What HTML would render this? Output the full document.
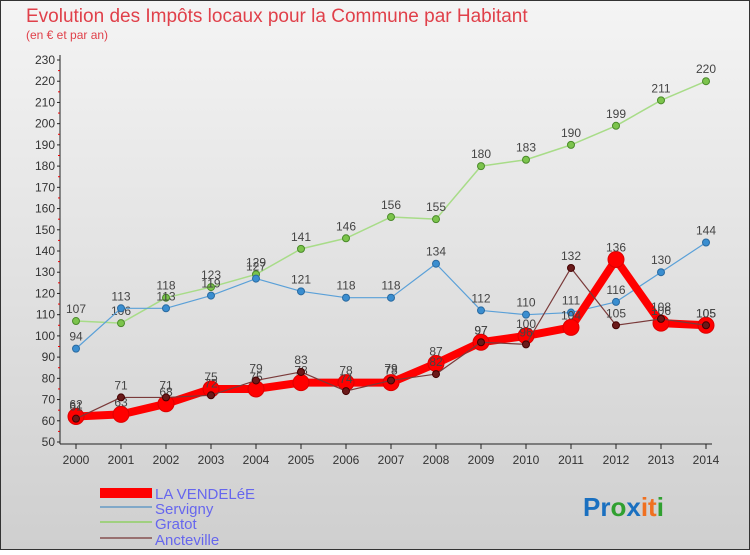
<!DOCTYPE html>
<html><head><meta charset="utf-8"><style>
body{margin:0;width:750px;height:550px;overflow:hidden;font-family:"Liberation Sans",sans-serif}
svg text{font-family:"Liberation Sans",sans-serif}
</style></head><body>
<svg id="c" width="750" height="550" xmlns="http://www.w3.org/2000/svg">
<defs><linearGradient id="bg" x1="0" y1="0" x2="0" y2="1"><stop offset="0" stop-color="#f4f4f4"/><stop offset="1" stop-color="#cfcfcf"/></linearGradient></defs>
<rect x="0.5" y="0.5" width="749" height="549" fill="url(#bg)" stroke="#333"/>
<text x="26" y="22" font-size="19" fill="#e0404a">Evolution des Impôts locaux pour la Commune par Habitant</text>
<text x="26" y="39" font-size="12" fill="#e0404a">(en € et par an)</text>
<g id="axes"></g><g id="series"></g>
<g>
<rect x="100" y="488" width="52" height="10" fill="#f00"/>
<text x="155" y="499" font-size="15" fill="#6666ee">LA VENDELéE</text>
<rect x="100" y="506" width="52" height="2" fill="#80a8c8"/>
<text x="155" y="514" font-size="15" fill="#6666ee">Servigny</text>
<rect x="100" y="521" width="52" height="2" fill="#a0d080"/>
<text x="155" y="529" font-size="15" fill="#6666ee">Gratot</text>
<rect x="100" y="537" width="52" height="2" fill="#987070"/>
<text x="155" y="545" font-size="15" fill="#6666ee">Ancteville</text>
</g>
<text x="583" y="516" font-size="26" font-weight="bold"><tspan fill="#1a70c0">Pr</tspan><tspan fill="#30a030">o</tspan><tspan fill="#1a70c0">x</tspan><tspan fill="#f07020">it</tspan><tspan fill="#30a030">i</tspan></text>
</svg>
<script>
const years=[2000,2001,2002,2003,2004,2005,2006,2007,2008,2009,2010,2011,2012,2013,2014];
const yTicks=[50,60,70,80,90,100,110,120,130,140,150,160,170,180,190,200,210,220,230];
const vendelee=[62,63,68,75,75,78,78,78,87,97,100,104,136,106,105];
const servigny=[94,113,113,119,127,121,118,118,134,112,110,111,116,130,144];
const gratot=[107,106,118,123,129,141,146,156,155,180,183,190,199,211,220];
const ancteville=[61,71,71,72,79,83,74,79,82,97,96,132,105,108,105];
const NS="http://www.w3.org/2000/svg";
const X=i=>76+i*45, Y=v=>442-(v-50)*382/180;
function mk(t,a,p){const e=document.createElementNS(NS,t);for(const k in a)e.setAttribute(k,a[k]);p.appendChild(e);return e;}
const ax=document.getElementById('axes');
mk('line',{x1:60,y1:55,x2:60,y2:444,stroke:'#222'},ax);
mk('line',{x1:60,y1:444,x2:712,y2:444,stroke:'#222'},ax);
yTicks.forEach(v=>{
 const t=mk('text',{x:55,y:Y(v)+4,'font-size':12,'text-anchor':'end',fill:'#333'},ax);t.textContent=v;
 
 
 mk('line',{x1:57,y1:Y(v),x2:60,y2:Y(v),stroke:'#222'},ax);
 if(v<230)mk('line',{x1:58,y1:Y(v+5),x2:60,y2:Y(v+5),stroke:'#e00'},ax);
});
years.forEach((y,i)=>{
 mk('line',{x1:X(i),y1:444,x2:X(i),y2:449,stroke:'#222'},ax);
 const t=mk('text',{x:X(i),y:464,'font-size':12,'text-anchor':'middle',fill:'#333'},ax);t.textContent=y;
 
 
});
const sg=document.getElementById('series');
function series(vals,name,color,w,r,dot,dotStroke){
 const g=mk('g',{},sg);
 
 
 mk('polyline',{points:vals.map((v,i)=>X(i)+','+Y(v)).join(' '),fill:'none',stroke:color,'stroke-width':w,'stroke-linejoin':'round'},g);
 vals.forEach((v,i)=>{
  const c=mk('circle',{cx:X(i),cy:Y(v),r:r,fill:dot,stroke:dotStroke,'stroke-width':1},g);
  
  
  const t=mk('text',{x:X(i),y:Y(v)-8,'font-size':12,'text-anchor':'middle',fill:'#444'},g);t.textContent=v;
  
  
 });
}
series(gratot,'gratot','#a8dc88',1.5,3.5,'#7cc44c','#4a8a2a');
series(servigny,'servigny','#5aa0d8',1.2,3.5,'#3a8ed0','#2a6aa0');
series(vendelee,'vendelee','#f00',8,8,'#f00','#d00');
series(ancteville,'ancteville','#7a3a3a',1.2,3.5,'#6a1a1a','#400');
</script>
</body></html>
